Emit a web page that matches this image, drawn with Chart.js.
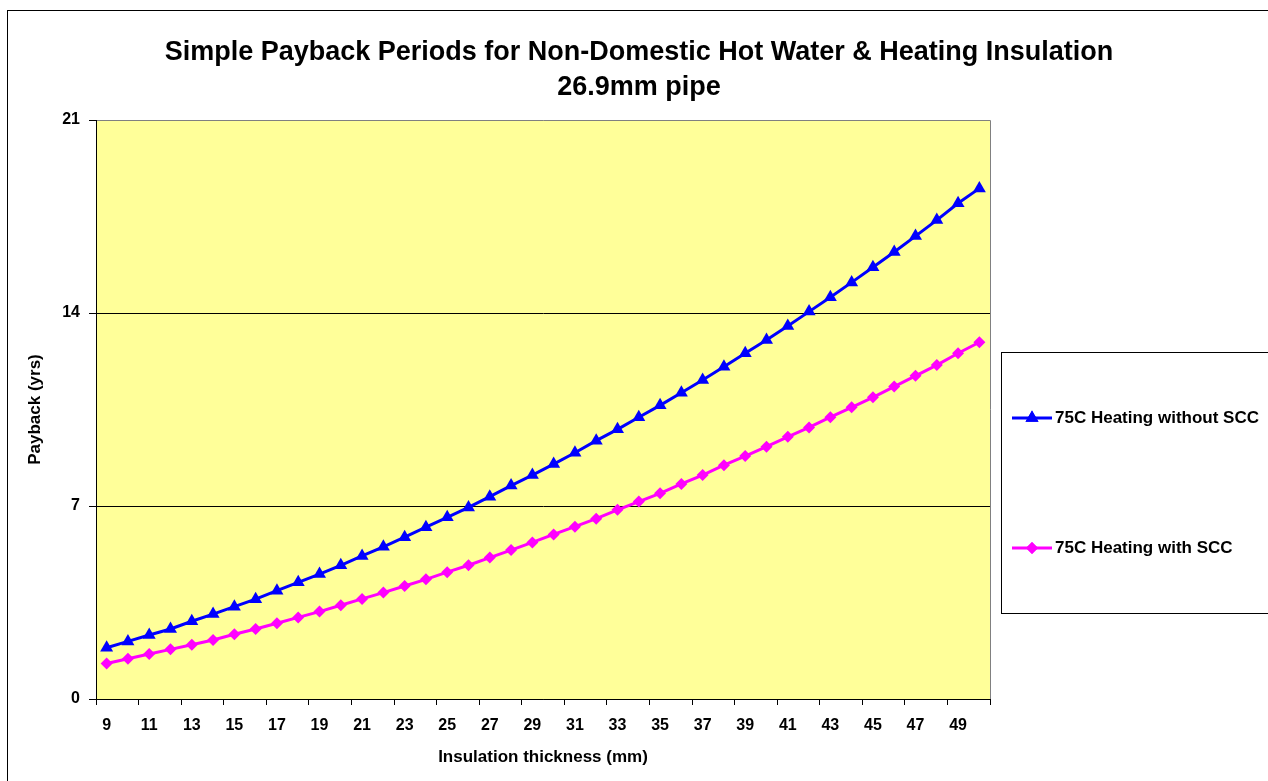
<!DOCTYPE html>
<html>
<head>
<meta charset="utf-8">
<script src="https://cdn.jsdelivr.net/npm/chart.js@4.4.0/dist/chart.umd.min.js"></script>
<style>
  html, body { margin: 0; padding: 0; background: #fff; }
  #wrap { width: 1268px; height: 781px; }
</style>
</head>
<body>
<div id="wrap"><canvas id="mycanvas1" width="1268" height="781"></canvas></div>
<script>
// epaisseur d'isolation (mm)
var thickness = [9, 10, 11, 12, 13, 14, 15, 16, 17, 18, 19, 20, 21, 22, 23, 24, 25, 26, 27, 28, 29,
                 30, 31, 32, 33, 34, 35, 36, 37, 38, 39, 40, 41, 42, 43, 44, 45, 46, 47, 48, 49, 50];

// 75C chauffage sans SCC
var withoutSCC = [1.86, 2.09, 2.32, 2.54, 2.82, 3.08, 3.35, 3.62, 3.93, 4.23, 4.53, 4.85, 5.19, 5.52,
                  5.87, 6.23, 6.59, 6.95, 7.34, 7.74, 8.12, 8.52, 8.93, 9.37, 9.78, 10.22, 10.65, 11.11,
                  11.57, 12.05, 12.54, 13.02, 13.53, 14.05, 14.57, 15.11, 15.66, 16.21, 16.79, 17.37, 17.98, 18.52];

// 75C chauffage avec SCC
var withSCC = [1.29, 1.46, 1.63, 1.80, 1.97, 2.14, 2.35, 2.54, 2.75, 2.96, 3.17, 3.40, 3.63, 3.86,
               4.10, 4.34, 4.60, 4.85, 5.13, 5.40, 5.68, 5.97, 6.25, 6.54, 6.86, 7.16, 7.46, 7.80,
               8.12, 8.48, 8.81, 9.15, 9.51, 9.85, 10.22, 10.58, 10.94, 11.33, 11.72, 12.11, 12.54, 12.94];

var seriesNames = ["75C Heating without SCC", "75C Heating with SCC"];
var yTicks = [0, 7, 14, 21];
var titleLines = ["Simple Payback Periods for Non-Domestic Hot Water & Heating Insulation", "26.9mm pipe"];

var FONT = 'Arial, "Liberation Sans", sans-serif';

var chartdata = {
	labels: thickness,
	datasets: [
		{
			label: seriesNames[0],
			data: withoutSCC,
			borderColor: '#0000FF',
			backgroundColor: '#0000FF',
			borderWidth: 3,
			pointStyle: 'triangle',
			pointRadius: 7.5,
			pointBorderWidth: 0,
			tension: 0
		},
		{
			label: seriesNames[1],
			data: withSCC,
			borderColor: '#FF00FF',
			backgroundColor: '#FF00FF',
			borderWidth: 3,
			pointStyle: 'rectRot',
			pointRadius: 6,
			pointBorderWidth: 0,
			tension: 0
		}
	]
};

// fond, cadre, titre et legende dessines a la main
var decor = {
	id: 'decor',
	beforeDraw: function(chart) {
		var c = chart.ctx, a = chart.chartArea;
		c.save();
		c.fillStyle = '#fff';
		c.fillRect(0, 0, chart.width, chart.height);
		c.strokeStyle = '#000';
		c.lineWidth = 1;
		c.strokeRect(7.5, 10.5, chart.width, chart.height);
		c.fillStyle = '#FFFF99';
		c.fillRect(a.left, a.top, a.right - a.left, a.bottom - a.top);
		c.strokeStyle = '#808080';
		c.beginPath();
		c.moveTo(a.left, a.top + 0.5);
		c.lineTo(a.right + 0.5, a.top + 0.5);
		c.lineTo(a.right + 0.5, a.bottom);
		c.stroke();
		// titre
		c.fillStyle = '#000';
		c.textAlign = 'center';
		c.textBaseline = 'middle';
		c.font = 'bold 27px ' + FONT;
		c.fillText(titleLines[0], 639, 53);
		c.fillText(titleLines[1], 639, 88);
		c.restore();
	},
	afterDraw: function(chart) {
		var c = chart.ctx;
		c.save();
		c.strokeStyle = '#000';
		c.lineWidth = 1;
		c.strokeRect(1001.5, 352.5, 300, 261);
		var ys = [418, 548];
		chart.data.datasets.forEach(function(ds, i) {
			var y = ys[i];
			c.strokeStyle = ds.borderColor;
			c.lineWidth = 3;
			c.beginPath();
			c.moveTo(1012, y);
			c.lineTo(1052, y);
			c.stroke();
			c.fillStyle = ds.backgroundColor;
			c.beginPath();
			Chart.helpers.drawPoint(c, { pointStyle: ds.pointStyle, radius: ds.pointRadius, borderWidth: 0 }, 1032, y);
			c.fill();
			c.fillStyle = '#000';
			c.font = 'bold 17px ' + FONT;
			c.textAlign = 'left';
			c.textBaseline = 'middle';
			c.fillText(ds.label, 1055, y);
		});
		c.restore();
	}
};

var ctx = document.getElementById('mycanvas1');
var lineGraph = new Chart(ctx, {
	type: 'line',
	data: chartdata,
	plugins: [decor],
	options: {
		responsive: false,
		animation: false,
		layout: { padding: { left: 0, right: 278, top: 120, bottom: 0 } },
		plugins: {
			legend: { display: false },
			title: { display: false },
			tooltip: { enabled: false }
		},
		scales: {
			x: {
				type: 'category',
				offset: true,
				afterFit: function(s) { s.height = 82; },
				grid: {
					offset: true,
					drawOnChartArea: false,
					drawTicks: true,
					tickLength: 6,
					tickColor: function(ctx) {
						return (ctx.index === undefined || ctx.index % 2 === 0) ? '#000' : 'rgba(0,0,0,0)';
					}
				},
				border: { display: true, color: '#000', width: 1 },
				ticks: {
					autoSkip: false,
					maxRotation: 0,
					padding: 11,
					color: '#000',
					font: { family: FONT, size: 16, weight: 'bold' },
					callback: function(v, i) { return i % 2 === 0 ? thickness[i] : ''; }
				},
				title: {
					display: true,
					text: 'Insulation thickness (mm)',
					color: '#000',
					font: { family: FONT, size: 17, weight: 'bold' },
					padding: { top: 0, bottom: 13 }
				}
			},
			y: {
				min: 0,
				max: 21,
				afterFit: function(s) { s.width = 96; },
				afterBuildTicks: function(s) { s.ticks = yTicks.map(function(v) { return { value: v }; }); },
				grid: {
					color: function(ctx) {
						if (ctx.tick && ctx.tick.value === 21) return 'rgba(0,0,0,0)';
						return '#000';
					},
					tickColor: '#000',
					tickLength: 7,
					lineWidth: 1
				},
				border: { display: true, color: '#000', width: 1 },
				ticks: {
					padding: 9,
					color: '#000',
					font: { family: FONT, size: 16, weight: 'bold' }
				},
				title: {
					display: true,
					text: 'Payback (yrs)',
					color: '#000',
					font: { family: FONT, size: 17, weight: 'bold' },
					padding: { top: 25, bottom: 0 }
				}
			}
		}
	}
});
</script>
</body>
</html>
